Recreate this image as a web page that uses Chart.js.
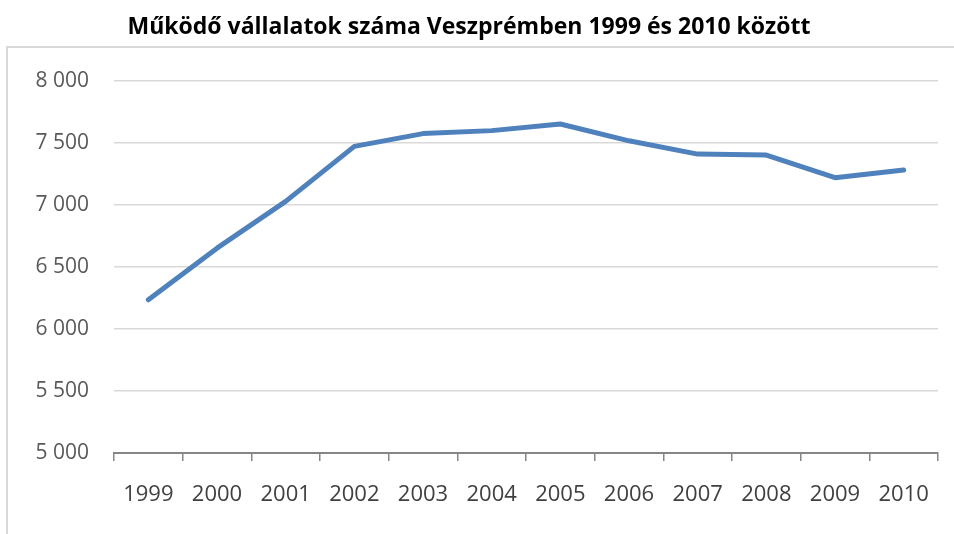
<!DOCTYPE html>
<html>
<head>
<meta charset="utf-8">
<script src="https://cdn.jsdelivr.net/npm/chart.js@4"></script>
<style>
  html, body { margin: 0; padding: 0; background: #fff; }
  #wrap { width: 954px; height: 534px; position: relative; }
</style>
</head>
<body>
<div id="wrap"><canvas id="vallalatChart" width="954" height="534"></canvas></div>
<script>
const years = ["1999", "2000", "2001", "2002", "2003", "2004", "2005", "2006", "2007", "2008", "2009", "2010"];
const vallalatok = [6234, 6650, 7027, 7470, 7573, 7597, 7650, 7515, 7408, 7400, 7218, 7280];
const yMin = 5000;
const yMax = 8000;
const yStep = 500;

const chartTitle = "Működő vállalatok száma Veszprémben 1999 és 2010 között";

// thin gray frame of the plot area (only top and left edge visible in the original)
const framePlugin = {
    id: "frame",
    beforeDraw(chart) {
        const ctx = chart.ctx;
        ctx.save();
        ctx.strokeStyle = "#d9d9d9";
        ctx.lineWidth = 2;
        ctx.beginPath();
        ctx.moveTo(7, chart.height);
        ctx.lineTo(7, 47);
        ctx.lineTo(chart.width, 47);
        ctx.stroke();
        ctx.restore();
    }
};

function spaced(v) {
    return String(v).replace(/\B(?=(\d{3})+(?!\d))/g, " ");
}

new Chart(document.getElementById("vallalatChart"), {
    type: "line",
    data: {
        labels: years,
        datasets: [{
            label: "Működő vállalatok",
            data: vallalatok,
            borderColor: "#4f81bd",
            borderWidth: 5,
            borderCapStyle: "round",
            borderJoinStyle: "round",
            pointRadius: 0,
            tension: 0,
            fill: false
        }]
    },
    options: {
        responsive: false,
        animation: false,
        devicePixelRatio: 1,
        layout: {
            padding: { left: 0, right: 16, top: 0, bottom: 0 }
        },
        plugins: {
            legend: { display: false },
            tooltip: { enabled: false },
            title: {
                display: true,
                text: chartTitle,
                color: "#000000",
                font: { family: "'Open Sans', sans-serif", size: 23, weight: "bold", lineHeight: 1.2 },
                padding: { top: 14, bottom: 39 }
            }
        },
        scales: {
            x: {
                offset: true,
                afterFit(scale) { scale.height = 81; },
                grid: {
                    offset: true,
                    drawOnChartArea: false,
                    drawTicks: true,
                    tickLength: 8,
                    color: "#868686",
                    lineWidth: 1.5
                },
                border: { color: "#868686", width: 2 },
                ticks: {
                    color: "#404040",
                    padding: 21,
                    maxRotation: 0,
                    font: { family: "'Open Sans', sans-serif", size: 22 }
                }
            },
            y: {
                min: yMin,
                max: yMax,
                afterFit(scale) { scale.width = 114; },
                grid: {
                    color: "#d9d9d9",
                    lineWidth: 1.5,
                    drawTicks: false
                },
                border: { display: false },
                ticks: {
                    stepSize: yStep,
                    padding: 25,
                    color: "#595959",
                    font: { family: "'Open Sans', sans-serif", size: 21 },
                    callback: (v) => spaced(v)
                }
            }
        }
    },
    plugins: [framePlugin]
});
</script>
</body>
</html>
